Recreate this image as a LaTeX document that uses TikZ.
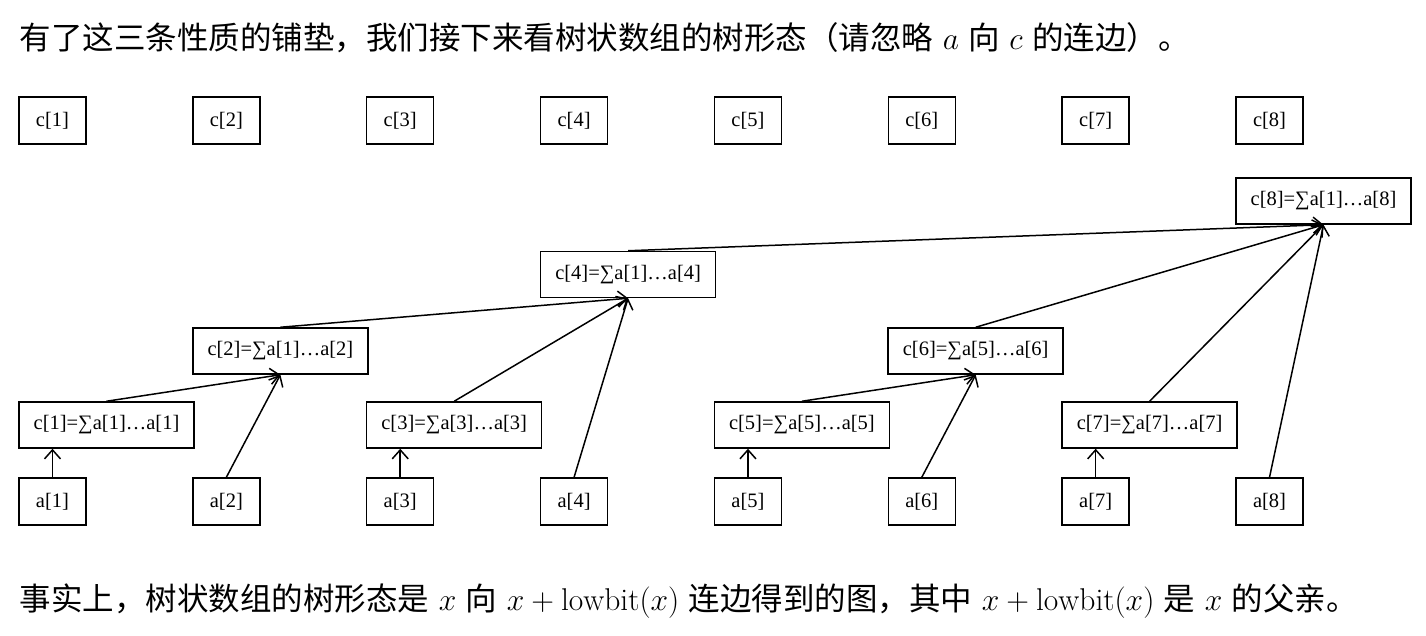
\RequirePackage{fix-cm}
\documentclass[tikz,border=0pt]{standalone}
\usepackage{fontspec}
\usepackage{tikz}
\usetikzlibrary{arrows.meta}
\newfontfamily\cjk{Noto Sans CJK SC}
\newfontfamily\tms{Liberation Serif}

\begin{document}
\begin{tikzpicture}[x=1pt, y=-1pt, line width=1.5pt,
    >={Straight Barb[length=9pt,width=16pt]},
    cell/.style={draw, line width=1.5pt, inner sep=0pt,
      minimum width=67pt, minimum height=47pt,
      font=\tms\fontsize{20.5}{24}\selectfont},
    sumbox/.style={cell, minimum width=175pt, minimum height=46pt},
    line/.style={anchor=west, inner sep=0pt,
      font=\fontsize{31.5}{36}\selectfont}]
      \useasboundingbox (0,0) rectangle (1426,636);
      % the two lines of text
      \node [line] (intro) at (19,38) {{\cjk 有了这三条性质的铺垫，我们接下来看树状数组的树形态（请忽略} $a$ {\cjk 向} $c$ {\cjk 的连边）。}};
      \node [line] (fact) at (19,601) {{\cjk 事实上，树状数组的树形态是} $x$ {\cjk 向} $x+\mathrm{lowbit}(x)$ {\cjk 连边得到的图，其中} $x+\mathrm{lowbit}(x)$ {\cjk 是} $x$ {\cjk 的父亲。}};
      % rows of c and a
      \foreach \k in {1,...,8} {
        \node [cell] (t\k) at ({52.5+173.86*(\k-1)},120.5) {c[\k]};
        \node [cell] (a\k) at ({52.5+173.86*(\k-1)},501.5) {a[\k]};
      }
      % the tree
      \node [sumbox] (s1) at (106.5,425) {c[1]=∑a[1]…a[1]};
      \node [sumbox] (s3) at (454.2,425) {c[3]=∑a[3]…a[3]};
      \node [sumbox] (s5) at (801.9,425) {c[5]=∑a[5]…a[5]};
      \node [sumbox] (s7) at (1149.6,425) {c[7]=∑a[7]…a[7]};
      \node [sumbox] (s2) at (280.4,351) {c[2]=∑a[1]…a[2]};
      \node [sumbox] (s6) at (975.7,351) {c[6]=∑a[5]…a[6]};
      \node [sumbox] (s4) at (628.1,274.5) {c[4]=∑a[1]…a[4]};
      \node [sumbox] (s8) at (1323.5,201) {c[8]=∑a[1]…a[8]};
      \draw [->] (a1.north) -- (a1.north |- s1.south);
      \draw [->] (a3.north) -- (a3.north |- s3.south);
      \draw [->] (a5.north) -- (a5.north |- s5.south);
      \draw [->] (a7.north) -- (a7.north |- s7.south);
      \draw [->] (a2.north) -- (s2.south);
      \draw [->] (s1.north) -- (s2.south);
      \draw [->] (a6.north) -- (s6.south);
      \draw [->] (s5.north) -- (s6.south);
      \draw [->] (a4.north) -- (s4.south);
      \draw [->] (s3.north) -- (s4.south);
      \draw [->] (s2.north) -- (s4.south);
      \draw [->] (a8.north) -- (s8.south);
      \draw [->] (s7.north) -- (s8.south);
      \draw [->] (s6.north) -- (s8.south);
      \draw [->] (s4.north) -- (s8.south);
    \end{tikzpicture}
\end{document}
